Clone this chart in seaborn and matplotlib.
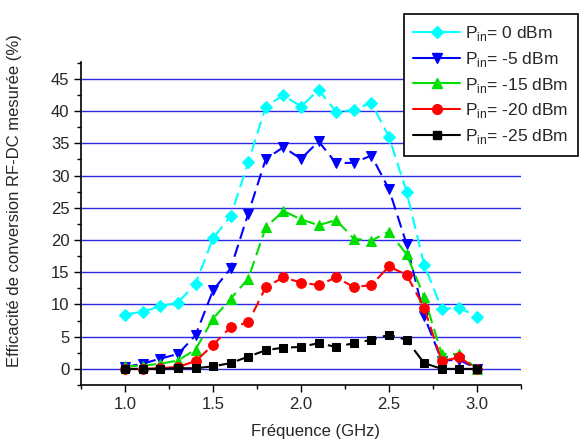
import pandas as pd
import matplotlib
matplotlib.use("Agg")
import matplotlib.pyplot as plt
from matplotlib.lines import Line2D
import seaborn as sns

freq = [1.0, 1.1, 1.2, 1.3, 1.4, 1.5, 1.6, 1.7, 1.8, 1.9, 2.0,
        2.1, 2.2, 2.3, 2.4, 2.5, 2.6, 2.7, 2.8, 2.9, 3.0]

eff_0 = [8.4, 8.9, 9.7, 10.3, 13.2, 20.3, 23.7, 32.1, 40.7, 42.5, 40.7,
         43.3, 39.9, 40.2, 41.3, 36.0, 27.5, 16.2, 9.3, 9.5, 8.1]
eff_m5 = [0.3, 0.8, 1.6, 2.3, 5.2, 12.2, 15.6, 24.1, 32.6, 34.4, 32.6,
          35.3, 31.9, 32.0, 33.1, 27.9, 19.4, 8.2, 1.3, 1.4, 0.0]
eff_m15 = [0.4, 0.5, 0.8, 1.3, 3.0, 7.8, 10.9, 14.0, 22.0, 24.5, 23.2,
           22.3, 23.1, 20.2, 19.9, 21.3, 17.8, 11.2, 2.3, 2.3, 0.0]
eff_m20 = [0.0, 0.0, 0.1, 0.3, 1.2, 3.7, 6.5, 7.2, 12.7, 14.2, 13.4,
           13.0, 14.2, 12.7, 13.0, 15.9, 14.6, 9.5, 1.2, 1.8, 0.0]
eff_m25 = [0.0, 0.0, 0.0, 0.1, 0.1, 0.4, 0.9, 1.9, 2.9, 3.3, 3.4,
           4.0, 3.4, 4.0, 4.5, 5.3, 4.5, 0.9, 0.0, 0.0, 0.0]

labels = ["0", "-5", "-15", "-20", "-25"]
series = [eff_0, eff_m5, eff_m15, eff_m20, eff_m25]
colors = ["#00ffff", "#0000ff", "#00e000", "#ff0000", "#000000"]
markers = ["D", "v", "^", "o", "s"]
msizes = [6, 7, 7, 7, 6]

sns.set_style("ticks")
plt.rcParams['font.family'] = ['Liberation Sans', 'DejaVu Sans']
plt.rcParams['mathtext.fontset'] = 'custom'
plt.rcParams['mathtext.rm'] = 'Liberation Sans'

fig = plt.figure(figsize=(5.8, 4.41), dpi=100)
ax = fig.add_axes([0.140, 0.127, 0.758, 0.732])

for yv in range(0, 50, 5):
    ax.axhline(yv, color="#2a2ae6", lw=1.0, zorder=0)

handles = []
for lab, vals, c, m, ms in zip(labels, series, colors, markers, msizes):
    df = pd.DataFrame({"f": freq, "eff": vals})
    sns.lineplot(data=df, x="f", y="eff", ax=ax, color=c, marker=m,
                 markersize=ms, markeredgecolor=c, linestyle=(0, (6, 3)),
                 linewidth=1.5, zorder=3)
    handles.append(Line2D([], [], color=c, marker=m, markersize=ms,
                          markeredgecolor=c, lw=1.5,
                          label=r"P$_{\mathrm{in}}$= " + lab + " dBm"))

ax.set_xlim(0.75, 3.25)
ax.set_ylim(-2, 47.6)
ax.set_xticks([1.0, 1.5, 2.0, 2.5, 3.0])
ax.set_xticks([0.75, 1.25, 1.75, 2.25, 2.75, 3.25], minor=True)
ax.set_yticks(range(0, 50, 5))
ax.set_yticks([v + 2.5 for v in range(-5, 50, 5)], minor=True)
ax.tick_params(axis="both", which="major", length=5, width=1, labelsize=12,
               direction="out", color="black")
ax.tick_params(axis="both", which="minor", length=3, width=1,
               direction="out", color="black")
sns.despine(ax=ax)
for s in ["left", "bottom"]:
    ax.spines[s].set_linewidth(1.2)
    ax.spines[s].set_color("black")

ax.set_xlabel("Fréquence (GHz)", fontsize=12)
ax.set_ylabel("Efficacité de conversion RF-DC mesurée (%)", fontsize=12)
ax.xaxis.set_label_coords(0.534, -0.12)
ax.yaxis.set_label_coords(-0.135, 0.57)

leg = fig.legend(handles=handles, loc="upper right",
                 bbox_to_anchor=(0.997, 0.968), borderaxespad=0,
                 fontsize=12.5, frameon=True, fancybox=False, framealpha=1,
                 edgecolor="black", handlelength=2.7, labelspacing=0.4,
                 borderpad=0.55, handletextpad=0.3)
leg.get_frame().set_linewidth(1.2)

fig.savefig("out.png", dpi=100)
